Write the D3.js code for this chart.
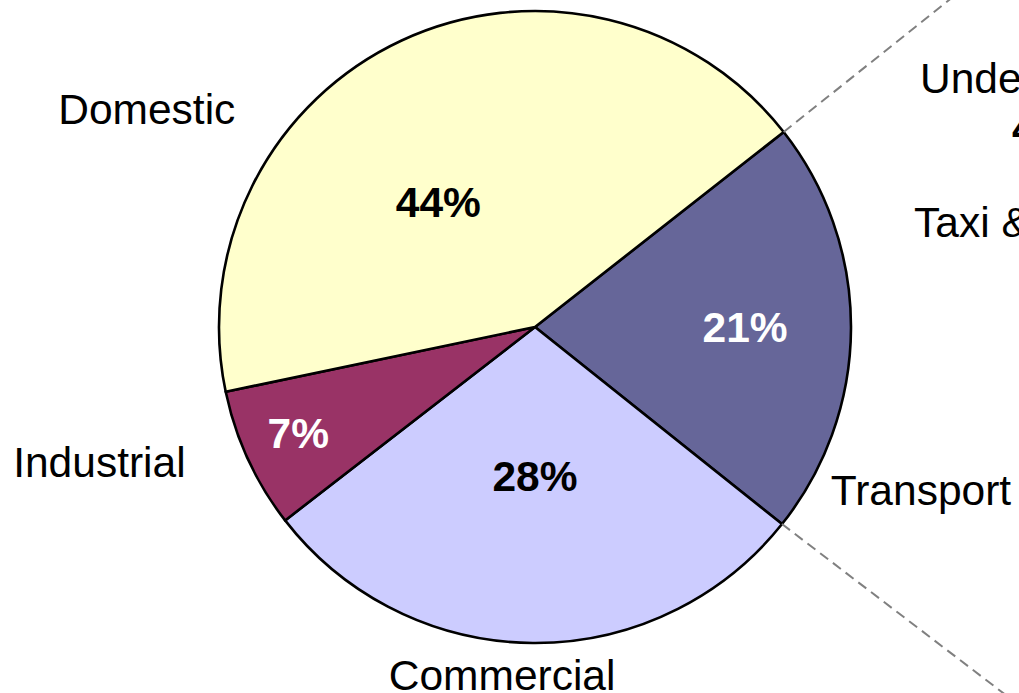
<!DOCTYPE html>
<html>
<head>
<meta charset="utf-8">
<script src="https://cdn.jsdelivr.net/npm/d3@7"></script>
<style>
  html, body { margin: 0; padding: 0; background: #fff; overflow: hidden; }
  svg { display: block; }
</style>
</head>
<body>
<div id="chart"></div>
<script>
// Energy use by sector, pie with a split-out Transport slice (secondary chart cut off at right)

// Data, in drawing order (clockwise, starting at the Transport slice)
const sectors = ['Transport', 'Commercial', 'Industrial', 'Domestic'];
const shares = [21.3, 28.8, 7.2, 42.7];
const shareLabels = ['21%', '28%', '7%', '44%']; // printed data labels

// Secondary (transport breakdown) labels, mostly off the right edge
const subLabels = ['Underground', 'Taxi & Private Hire'];
const subValueLabels = ['45%'];

// Layout
const width = 1019;
const height = 693;
const cx = 535, cy = 327;
const radius = 316;
const startDeg = 51.9;
const fontSize = 42.5;

const colors = d3.scaleOrdinal()
  .domain(sectors)
  .range(['#666699', '#ccccff', '#993366', '#ffffcc']);

const valueColor = { Transport: '#fff', Commercial: '#000', Industrial: '#fff', Domestic: '#000' };

// label placement: [angle in degrees clockwise from 12 o'clock, radius as fraction of pie radius]
const innerPos = { Transport: [90, 0.665], Commercial: [180, 0.47], Industrial: [246, 0.82], Domestic: [322.3, 0.5] };
const outerPos = { Transport: [112.9, 1.326], Commercial: [185.4, 1.106], Industrial: [252.8, 1.443], Domestic: [299.4, 1.41] };

function polar(deg, r) {
  const a = deg * Math.PI / 180;
  return [cx + r * Math.sin(a), cy - r * Math.cos(a)];
}

const svg = d3.select('#chart')
  .append('svg')
  .attr('width', width)
  .attr('height', height)
  .attr('viewBox', [0, 0, width, height]);

const rows = sectors.map((s, i) => ({ name: s, value: shares[i], label: shareLabels[i] }));

const pie = d3.pie()
  .sort(null)
  .value(d => d.value)
  .startAngle(startDeg * Math.PI / 180)
  .endAngle(startDeg * Math.PI / 180 + 2 * Math.PI);

const arcs = pie(rows);

const arc = d3.arc()
  .innerRadius(0)
  .outerRadius(radius);

const g = svg.append('g')
  .attr('transform', `translate(${cx},${cy})`);

g.selectAll('path')
  .data(arcs)
  .join('path')
  .attr('d', arc)
  .attr('fill', d => colors(d.data.name))
  .attr('stroke', '#000')
  .attr('stroke-width', 2.6)
  .attr('stroke-linejoin', 'round');

// connector lines from the Transport slice to the (off-screen) secondary chart
const transport = arcs[0];
const toDeg = a => a * 180 / Math.PI;
const p1 = polar(toDeg(transport.startAngle), radius);
const p2 = polar(toDeg(transport.endAngle), radius);
const connectors = [
  [p1, [1150, p1[1] - 0.798 * (1150 - p1[0])]],
  [p2, [1150, p2[1] + 0.764 * (1150 - p2[0])]]
];

svg.append('g')
  .selectAll('line')
  .data(connectors)
  .join('line')
  .attr('x1', d => d[0][0])
  .attr('y1', d => d[0][1])
  .attr('x2', d => d[1][0])
  .attr('y2', d => d[1][1])
  .attr('stroke', '#808080')
  .attr('stroke-width', 2)
  .attr('stroke-dasharray', '10,6');

const font = 'Arial, "Liberation Sans", sans-serif';

// percentage labels inside the slices
svg.append('g')
  .selectAll('text')
  .data(arcs)
  .join('text')
  .attr('x', d => polar(innerPos[d.data.name][0], innerPos[d.data.name][1] * radius)[0])
  .attr('y', d => polar(innerPos[d.data.name][0], innerPos[d.data.name][1] * radius)[1])
  .attr('dy', '0.36em')
  .attr('text-anchor', 'middle')
  .attr('font-family', font)
  .attr('font-weight', 'bold')
  .attr('font-size', fontSize)
  .attr('fill', d => valueColor[d.data.name])
  .text(d => d.data.label);

// category labels outside the pie
svg.append('g')
  .selectAll('text')
  .data(arcs)
  .join('text')
  .attr('x', d => polar(outerPos[d.data.name][0], outerPos[d.data.name][1] * radius)[0])
  .attr('y', d => polar(outerPos[d.data.name][0], outerPos[d.data.name][1] * radius)[1])
  .attr('dy', '0.36em')
  .attr('text-anchor', 'middle')
  .attr('font-family', font)
  .attr('font-size', fontSize)
  .attr('fill', '#000')
  .text(d => d.data.name);

// secondary chart labels (clipped by the right edge)
const sub = svg.append('g')
  .attr('font-family', font)
  .attr('font-size', fontSize)
  .attr('fill', '#000');

sub.selectAll('text.sub')
  .data(subLabels)
  .join('text')
  .attr('class', 'sub')
  .attr('x', (d, i) => i === 0 ? 920 : 914)
  .attr('y', (d, i) => i === 0 ? 93 : 237)
  .text(d => d);

sub.selectAll('text.subval')
  .data(subValueLabels)
  .join('text')
  .attr('class', 'subval')
  .attr('x', 1012)
  .attr('y', 143)
  .attr('font-weight', 'bold')
  .text(d => d);
</script>
</body>
</html>
